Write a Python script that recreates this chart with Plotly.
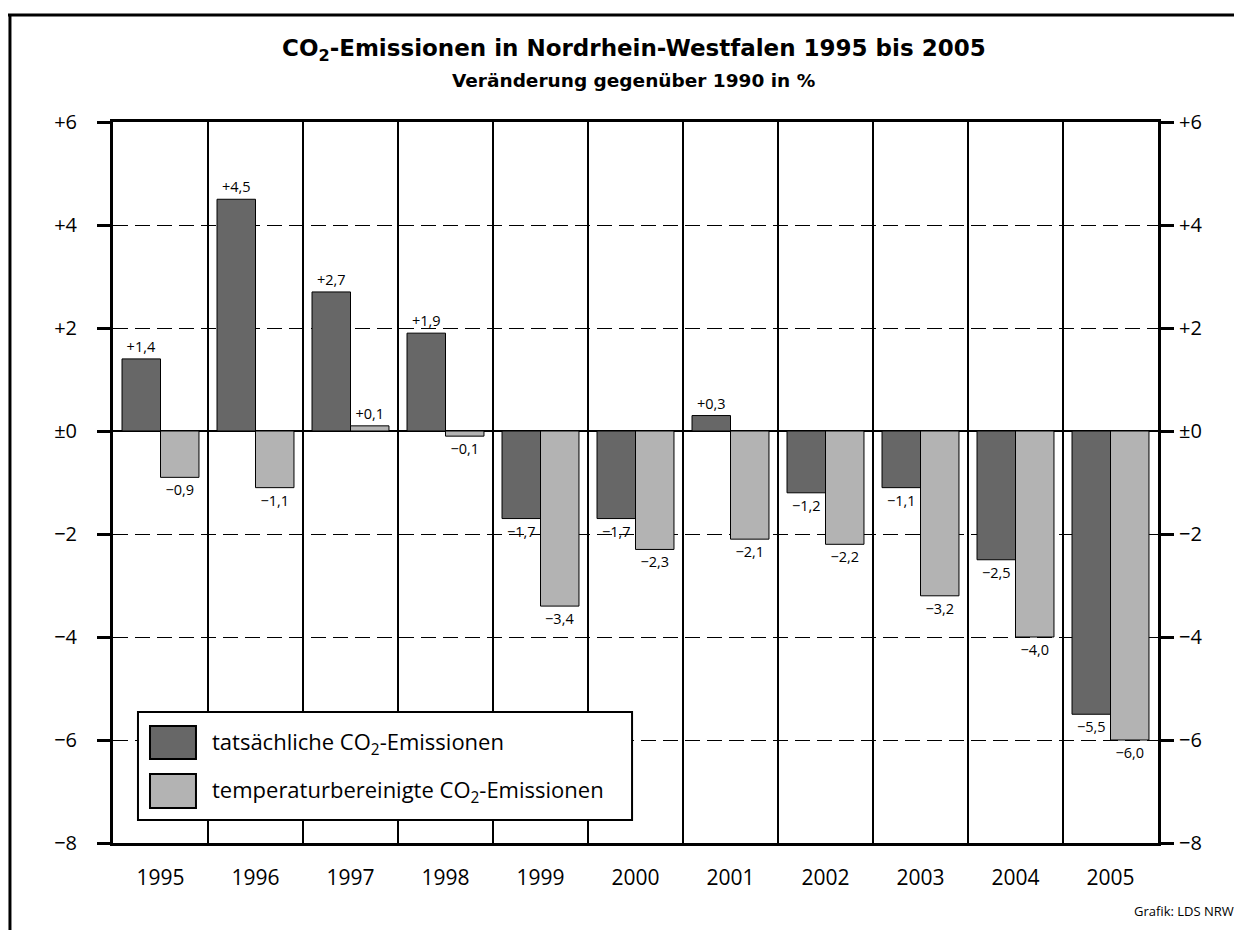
import plotly.graph_objects as go

# ---------------- data ----------------
years = ["1995", "1996", "1997", "1998", "1999", "2000", "2001", "2002", "2003", "2004", "2005"]
actual = [1.4, 4.5, 2.7, 1.9, -1.7, -1.7, 0.3, -1.2, -1.1, -2.5, -5.5]
adjusted = [-0.9, -1.1, 0.1, -0.1, -3.4, -2.3, -2.1, -2.2, -3.2, -4.0, -6.0]
series_names = ["tatsächliche CO<sub>2</sub>-Emissionen",
                "temperaturbereinigte CO<sub>2</sub>-Emissionen"]
y_ticks = [6, 4, 2, 0, -2, -4, -6, -8]
y_tick_labels = ["+6", "+4", "+2", "±0", "−2", "−4", "−6", "−8"]
title_text = "CO<sub>2</sub>-Emissionen in Nordrhein-Westfalen 1995 bis 2005"
subtitle_text = "Veränderung gegenüber 1990 in %"
source_text = "Grafik: LDS NRW"

# ---------------- style ----------------
FONT = "Open Sans"
TITLE_FONT = "DejaVu Sans"
colors = ["#676767", "#b3b3b3"]


def fmt(v):
    return f"{v:+.1f}".replace(".", ",").replace("-", "−")


fig = go.Figure()
for vals, name, col in zip([actual, adjusted], series_names, colors):
    fig.add_trace(go.Bar(
        x=years, y=vals, name=name,
        marker=dict(color=col, line=dict(color="black", width=1)),
        text=[fmt(v) for v in vals], textposition="outside",
        textfont=dict(size=14.5, color="black", family=FONT),
        constraintext="none", cliponaxis=False, showlegend=False,
    ))

# invisible trace so the right-hand axis is drawn
fig.add_trace(go.Scatter(x=years, y=actual, yaxis="y2", mode="markers",
                         marker=dict(opacity=0), showlegend=False, hoverinfo="skip"))

yaxis_common = dict(
    range=[-8, 6], tickvals=y_ticks, ticktext=y_tick_labels,
    ticks="outside", ticklen=13, tickwidth=3, tickcolor="black",
    showline=True, linewidth=3, linecolor="black",
    tickfont=dict(size=20, color="black", family=FONT),
)

# the page has an 8px body margin: figure is 8px smaller and shifted
fig.update_layout(
    width=1234, height=922,
    margin=dict(l=105, r=84, t=114, b=87),
    paper_bgcolor="white", plot_bgcolor="white",
    barmode="group", bargap=0.19, bargroupgap=0,
    font=dict(family=FONT, color="black"),
    xaxis=dict(
        type="category", range=[-0.5, len(years) - 0.5],
        tickson="boundaries", ticks="", showgrid=True,
        gridcolor="black", gridwidth=1.5,
        showline=True, mirror=True, linewidth=3, linecolor="black",
        tickfont=dict(size=21, color="black", family=FONT),
        ticklabelstandoff=14,
    ),
    yaxis=dict(**yaxis_common, showgrid=True, gridcolor="black", gridwidth=1,
               griddash="15px,7px", zeroline=True, zerolinecolor="black",
               zerolinewidth=1.5, ticklabelstandoff=16),
    yaxis2=dict(**yaxis_common, overlaying="y", side="right", anchor="x",
                showgrid=False, zeroline=False, ticklabelstandoff=1),
)

# outer frame (top and left)
fig.add_shape(type="line", xref="paper", yref="paper", x0=-0.104, x1=1.09,
              y0=1.1484, y1=1.1484, line=dict(color="black", width=3))
fig.add_shape(type="line", xref="paper", yref="paper", x0=-0.0986, x1=-0.0986,
              y0=1.1484, y1=-0.13, line=dict(color="black", width=3))

# titles
fig.add_annotation(text=f"<b>{title_text}</b>", xref="paper", yref="paper",
                   x=0.4985, y=1.0995, showarrow=False, xanchor="center", yanchor="middle",
                   font=dict(size=23, family=TITLE_FONT, color="black"))
fig.add_annotation(text=f"<b>{subtitle_text}</b>", xref="paper", yref="paper",
                   x=0.4985, y=1.0569, showarrow=False, xanchor="center", yanchor="middle",
                   font=dict(size=18.5, family=TITLE_FONT, color="black"))
fig.add_annotation(text=source_text, xref="paper", yref="paper",
                   x=1.0746, y=-0.0943, showarrow=False, xanchor="right", yanchor="middle",
                   font=dict(size=13, family=FONT, color="black"))

# manual legend
fig.add_shape(type="rect", xref="paper", yref="paper", x0=0.0239, x1=0.4967,
              y0=0.0319, y1=0.1817, line=dict(color="black", width=2), fillcolor="white",
              layer="above")
sq_y = [(0.1165, 0.1623), (0.0485, 0.0957)]
txt_y = [0.1387, 0.0721]
for (y0, y1), ty, name, col in zip(sq_y, txt_y, series_names, colors):
    fig.add_shape(type="rect", xref="paper", yref="paper", x0=0.0354, x1=0.0794,
                  y0=y0, y1=y1, line=dict(color="black", width=2), fillcolor=col,
                  layer="above")
    fig.add_annotation(text=name, xref="paper", yref="paper", x=0.0928, y=ty,
                       showarrow=False, xanchor="left", yanchor="middle",
                       font=dict(size=22, family=FONT, color="black"))

fig.write_html("out.html")
